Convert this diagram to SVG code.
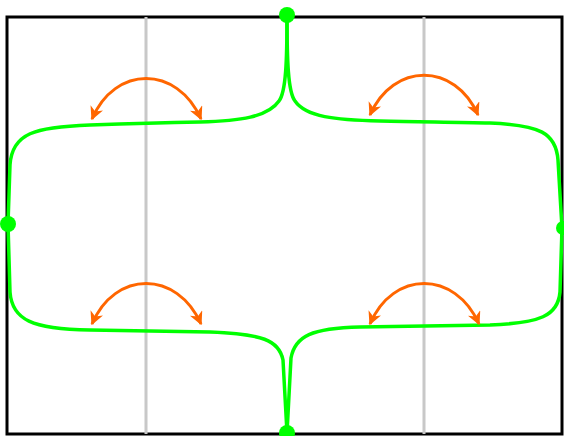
<svg xmlns="http://www.w3.org/2000/svg" width="564" height="436" viewBox="0 0 564 436">
<style>
.frame{fill:none;stroke:#000;stroke-width:3}
.grid{stroke:#c8c8c8;stroke-width:3}
.edge{fill:none;stroke:#00ff00;stroke-width:3.5}
.arc{fill:none;stroke:#ff6600;stroke-width:3;marker-start:url(#ah);marker-end:url(#ah)}
.node{fill:#00ff00}
</style>
<defs>
<marker id="ah" viewBox="0 0 10 10" refX="9" refY="5" markerWidth="4.5" markerHeight="4.5" orient="auto-start-reverse" markerUnits="strokeWidth">
<path d="M0,0 L10,5 L0,10 L3,5 z" fill="#ff6600"/>
</marker>
</defs>
<rect class="frame" x="7" y="17" width="555" height="417"/>
<line class="grid" x1="146" y1="17" x2="146" y2="434"/>
<line class="grid" x1="424" y1="17" x2="424" y2="434"/>
<g id="connectors">
<path class="edge" d="M287,15 C287,60 286,92 279,101 C268,117 240,121 200,122 C150,123 120,124 90,125 C35,127 12,133 10,165 L8,224"/>
<path class="edge" d="M287,15 C287,60 288,92 295,101 C306,117 335,120 380,121 C420,122 455,122 490,123 C540,125 556,133 558,160 L562,228"/>
<path class="edge" d="M8,224 L10,292 C12,320 32,329 90,330 C130,331 170,331 210,332 C262,334 279,340 283,360 L287,433"/>
<path class="edge" d="M562,228 L560,292 C558,316 540,323 490,325 C450,326 400,326 360,327 C312,328 295,336 291,358 L287,433"/>
<path class="arc" d="M92,119 C115,65 177,65 201,119"/>
<path class="arc" d="M370,115 C393,62 455,62 478,115"/>
<path class="arc" d="M92,324 C115,270 177,270 201,324"/>
<path class="arc" d="M370,324 C393,270 455,270 479,324"/>
</g>
<g id="n-top"><circle class="node" cx="287" cy="15" r="8"/></g>
<g id="n-left"><circle class="node" cx="8" cy="224" r="8"/></g>
<g id="n-right"><circle class="node" cx="563" cy="228" r="7"/></g>
<g id="n-bottom"><circle class="node" cx="287" cy="433" r="8"/></g>
</svg>
